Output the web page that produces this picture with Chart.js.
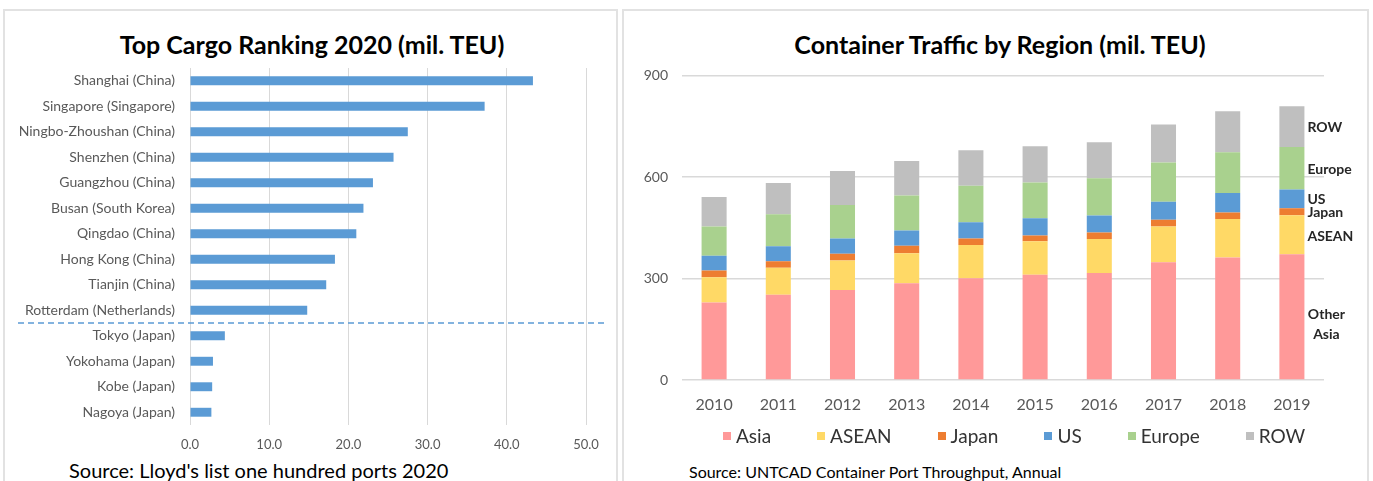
<!DOCTYPE html>
<html>
<head>
<meta charset="utf-8">
<script src="https://cdn.jsdelivr.net/npm/chart.js@4"></script>
<style>
    body { margin: 0; background: #fff; font-family: Lato, sans-serif; }
    .panel { position: absolute; border: 2px solid #e2e2e2; border-bottom: none; box-sizing: border-box; }
    canvas { position: absolute; }
    .title { position: absolute; width: 440px; text-align: center; font-size: 25px; font-weight: bold; line-height: 30px; color: #000; white-space: nowrap; }
    .src { position: absolute; color: #000; white-space: nowrap; }
    #legend { position: absolute; left: 723px; top: 424px; display: flex; font-size: 19px; color: #333; }
    #legend .item { display: flex; align-items: center; margin-right: 46px; line-height: 24px; }
    #legend .box { width: 8px; height: 8px; margin-right: 5px; }
</style>
</head>
<body>
<div class="panel" style="left:3px; top:9px; width:615px; height:472px;"></div>
<div class="panel" style="left:622px; top:9px; width:747px; height:472px;"></div>
<div class="title" style="left:92px; top:29px;">Top Cargo Ranking 2020 (mil. TEU)</div>
<div class="title" style="left:780px; top:29px;">Container Traffic by Region (mil. TEU)</div>
<canvas id="cargoChart" width="608" height="440" style="left:6px; top:12px;"></canvas>
<canvas id="trafficChart" width="740" height="420" style="left:626px; top:12px;"></canvas>
<div id="legend"></div>
<div class="src" style="left:69px; top:458px; font-size:20px;">Source: Lloyd's list one hundred ports 2020</div>
<div class="src" style="left:689px; top:462px; font-size:16px;">Source: UNTCAD Container Port Throughput, Annual</div>
<script>
// left chart data
const ports = ['Shanghai (China)', 'Singapore (Singapore)', 'Ningbo-Zhoushan (China)', 'Shenzhen (China)',
    'Guangzhou (China)', 'Busan (South Korea)', 'Qingdao (China)', 'Hong Kong (China)', 'Tianjin (China)',
    'Rotterdam (Netherlands)', 'Tokyo (Japan)', 'Yokohama (Japan)', 'Kobe (Japan)', 'Nagoya (Japan)'];
const portTeu = [43.3, 37.2, 27.5, 25.7, 23.1, 21.9, 21.0, 18.3, 17.2, 14.8, 4.4, 2.9, 2.8, 2.7];
const teuTicks = [0, 10, 20, 30, 40, 50];

// right chart data
const years = ['2010', '2011', '2012', '2013', '2014', '2015', '2016', '2017', '2018', '2019'];
const regions = ['Asia', 'ASEAN', 'Japan', 'US', 'Europe', 'ROW'];
const segmentLabels = [['Other', 'Asia'], ['ASEAN'], ['Japan'], ['US'], ['Europe'], ['ROW']];
const asiaTeu = [229, 252, 266, 286, 301, 311, 316, 348, 362, 372];
const aseanTeu = [75, 80, 87, 89, 98, 99, 101, 106, 114, 115];
const japanTeu = [20, 19, 20, 22, 19, 17, 19, 20, 19, 21];
const usTeu = [43, 44, 45, 45, 48, 51, 50, 53, 58, 55];
const europeTeu = [87, 95, 99, 103, 108, 106, 110, 116, 120, 126];
const rowTeu = [87, 92, 101, 102, 105, 107, 107, 112, 121, 120];
const regionColors = ['#FF9999', '#FFD966', '#ED7D31', '#5B9BD5', '#A9D18E', '#BFBFBF'];

Chart.defaults.font.family = 'Lato, sans-serif';
Chart.defaults.animation = false;

const gridColor = '#d9d9d9';
const tickColor = '#595959';

// dashed divider between the top 10 and the japanese ports
const dividerPlugin = {
    id: 'divider',
    afterDraw(chart) {
        const y = chart.scales.y;
        const py = (y.getPixelForValue(9) + y.getPixelForValue(10)) / 2;
        const ctx = chart.ctx;
        ctx.save();
        ctx.strokeStyle = '#5B9BD5';
        ctx.lineWidth = 1.5;
        ctx.setLineDash([6, 4]);
        ctx.beginPath();
        ctx.moveTo(12, py);
        ctx.lineTo(chart.width - 9, py);
        ctx.stroke();
        ctx.restore();
    }
};

new Chart(document.getElementById('cargoChart'), {
    type: 'bar',
    data: {
        labels: ports,
        datasets: [{
            data: portTeu,
            backgroundColor: '#5B9BD5',
            barPercentage: 0.35,
            categoryPercentage: 1
        }]
    },
    options: {
        indexAxis: 'y',
        responsive: false,
        layout: { padding: { left: 0, right: 28, bottom: 0, top: 56 } },
        plugins: {
            legend: { display: false },
            tooltip: { enabled: false }
        },
        scales: {
            x: {
                min: 0,
                max: 50,
                afterBuildTicks: (s) => { s.ticks = teuTicks.map(v => ({ value: v })); },
                afterFit: (s) => { s.height = 27; },
                grid: { color: gridColor, drawTicks: false },
                border: { display: false },
                ticks: {
                    color: tickColor,
                    font: { size: 13 },
                    padding: 12,
                    callback: (v) => Number(v).toFixed(1)
                }
            },
            y: {
                afterFit: (s) => { s.width = 184; },
                grid: { display: false, drawTicks: false },
                border: { display: false },
                ticks: { color: tickColor, font: { size: 14 }, padding: 15 }
            }
        }
    },
    plugins: [dividerPlugin]
});

// region names next to the last bar
const segmentLabelPlugin = {
    id: 'segmentLabels',
    afterDatasetsDraw(chart) {
        const ctx = chart.ctx;
        const last = years.length - 1;
        ctx.save();
        ctx.fillStyle = '#262626';
        ctx.font = 'bold 14px Lato, sans-serif';
        ctx.textBaseline = 'middle';
        chart.data.datasets.forEach((ds, i) => {
            const bar = chart.getDatasetMeta(i).data[last];
            const mid = (bar.y + bar.base) / 2;
            const x = bar.x + bar.width / 2 + 3;
            const lines = segmentLabels[i];
            if (lines.length === 1) {
                ctx.textAlign = 'left';
                ctx.fillText(lines[0], x, mid + (i === 1 ? 2 : 1));
            } else {
                ctx.textAlign = 'center';
                ctx.fillText(lines[0], x + 19, mid - 2);
                ctx.fillText(lines[1], x + 19, mid + 18);
            }
        });
        ctx.restore();
    }
};

const regionData = [asiaTeu, aseanTeu, japanTeu, usTeu, europeTeu, rowTeu];

new Chart(document.getElementById('trafficChart'), {
    type: 'bar',
    data: {
        labels: years,
        datasets: regions.map((name, i) => ({
            label: name,
            data: regionData[i],
            backgroundColor: regionColors[i],
            barPercentage: 0.39,
            categoryPercentage: 1
        }))
    },
    options: {
        responsive: false,
        layout: { padding: { left: 0, right: 42, bottom: 12, top: 63.5 } },
        plugins: {
            tooltip: { enabled: false },
            legend: { display: false }
        },
        scales: {
            x: {
                stacked: true,
                afterFit: (s) => { s.height = 40; },
                grid: { display: false, drawTicks: false },
                border: { display: false },
                ticks: { color: tickColor, font: { size: 16 }, padding: 15 }
            },
            y: {
                stacked: true,
                min: 0,
                max: 900,
                afterFit: (s) => { s.width = 56; },
                grid: { color: gridColor, drawTicks: false, lineWidth: 1.5 },
                border: { display: false },
                ticks: { stepSize: 300, color: tickColor, font: { size: 14 }, padding: 14 }
            }
        }
    },
    plugins: [segmentLabelPlugin]
});

// legend built from the same region names and colours
const legendEl = document.getElementById('legend');
regions.forEach((name, i) => {
    const item = document.createElement('div');
    item.className = 'item';
    const box = document.createElement('span');
    box.className = 'box';
    box.style.background = regionColors[i];
    item.appendChild(box);
    item.appendChild(document.createTextNode(name));
    legendEl.appendChild(item);
});
</script>
</body>
</html>
